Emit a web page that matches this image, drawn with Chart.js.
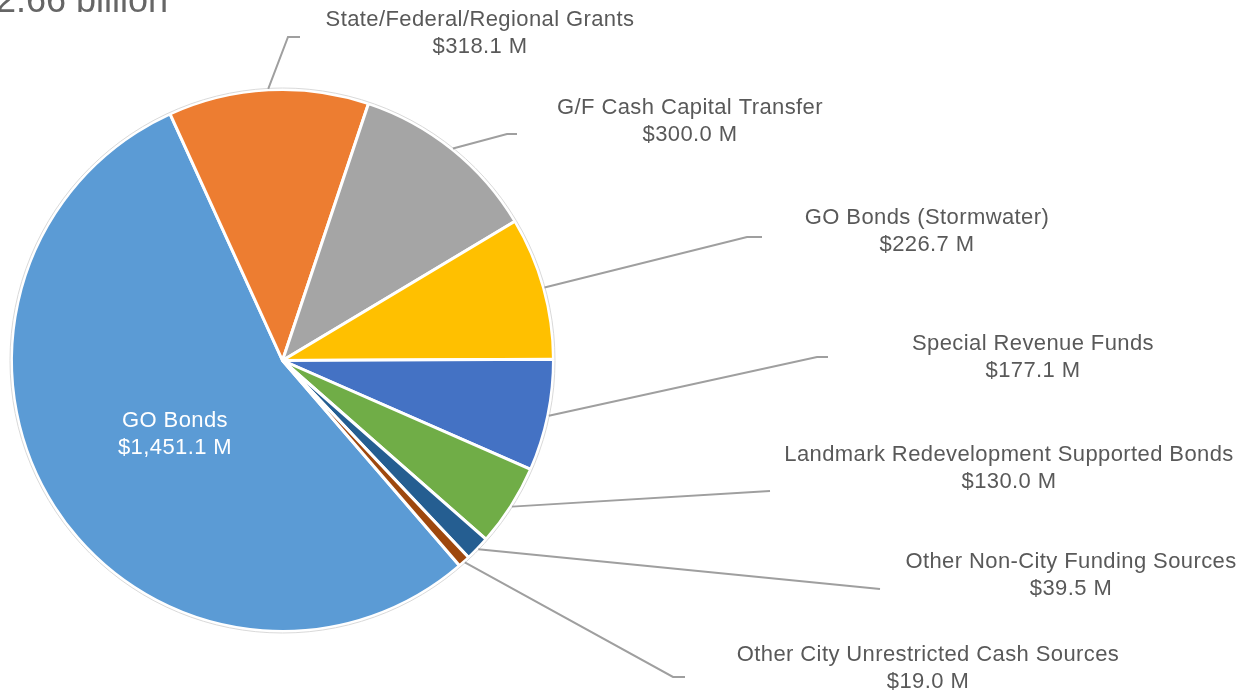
<!DOCTYPE html>
<html>
<head>
<meta charset="utf-8">
<script src="https://cdn.jsdelivr.net/npm/chart.js@4/dist/chart.umd.min.js"></script>
<style>
  html, body { margin: 0; padding: 0; background: #fff; }
  #wrap { width: 1246px; height: 693px; }
</style>
</head>
<body>
<div id="wrap"><canvas id="myChart" width="1246" height="693"></canvas></div>
<script>
const title = '2.66 billion';

const labels = [
  'GO Bonds',
  'State/Federal/Regional Grants',
  'G/F Cash Capital Transfer',
  'GO Bonds (Stormwater)',
  'Special Revenue Funds',
  'Landmark Redevelopment Supported Bonds',
  'Other Non-City Funding Sources',
  'Other City Unrestricted Cash Sources'
];
const amounts = [1451.1, 318.1, 300.0, 226.7, 177.1, 130.0, 39.5, 19.0]; // $ M
const colors = ['#5B9BD5', '#ED7D31', '#A5A5A5', '#FFC000', '#4472C4', '#70AD47', '#255E91', '#9E480E'];

function money(v) {
  return '$' + v.toLocaleString('en-US', { minimumFractionDigits: 1, maximumFractionDigits: 1 }) + ' M';
}

// label placement (canvas px): leader knee, end of short horizontal, text centre
const labelLayout = [
  { inside: true, tx: 175, ty: 421 },
  { knee: [288, 37], end: [300, 37], tx: 480, ty: 20 },
  { knee: [507, 134], end: [517, 134], tx: 690, ty: 108 },
  { knee: [747, 237], end: [762, 237], tx: 927, ty: 218 },
  { knee: [817, 357], end: [828, 357], tx: 1033, ty: 344 },
  { knee: [770, 491], end: [770, 491], tx: 1009, ty: 455 },
  { knee: [880, 589], end: [880, 589], tx: 1071, ty: 562 },
  { knee: [673, 677], end: [685, 677], tx: 928, ty: 655 }
];

const labelFont = '22px "Liberation Sans", Arial, sans-serif';

const pieLabels = {
  id: 'pieLabels',
  afterDatasetsDraw(chart) {
    const ctx = chart.ctx;
    const arcs = chart.getDatasetMeta(0).data;
    ctx.save();

    // faint outline round the pie
    const a0 = arcs[0].getProps(['x', 'y', 'outerRadius'], true);
    ctx.beginPath();
    ctx.arc(a0.x, a0.y, a0.outerRadius + 1.5, 0, Math.PI * 2);
    ctx.strokeStyle = '#d9d9d9';
    ctx.lineWidth = 1;
    ctx.stroke();

    ctx.font = labelFont;
    ctx.letterSpacing = '0.4px';
    ctx.textAlign = 'center';
    ctx.textBaseline = 'middle';
    arcs.forEach((arc, i) => {
      const p = arc.getProps(['x', 'y', 'startAngle', 'endAngle', 'outerRadius'], true);
      const lay = labelLayout[i];
      if (!lay.inside) {
        const mid = (p.startAngle + p.endAngle) / 2;
        const sx = p.x + Math.cos(mid) * (p.outerRadius + 1);
        const sy = p.y + Math.sin(mid) * (p.outerRadius + 1);
        ctx.beginPath();
        ctx.moveTo(sx, sy);
        ctx.lineTo(lay.knee[0], lay.knee[1]);
        ctx.lineTo(lay.end[0], lay.end[1]);
        ctx.strokeStyle = '#9f9f9f';
        ctx.lineWidth = 2;
        ctx.stroke();
      }
      ctx.fillStyle = lay.inside ? '#ffffff' : '#595959';
      ctx.fillText(labels[i], lay.tx, lay.ty);
      ctx.fillText(money(amounts[i]), lay.tx, lay.ty + 27);
    });

    // chart title, cut off at the top-left like the source
    ctx.letterSpacing = '0px';
    ctx.textAlign = 'left';
    ctx.textBaseline = 'alphabetic';
    ctx.font = '36px "Liberation Sans", Arial, sans-serif';
    ctx.fillStyle = '#666666';
    ctx.fillText(title, -4, 12);
    ctx.restore();
  }
};

const ctx = document.getElementById('myChart').getContext('2d');
new Chart(ctx, {
  type: 'pie',
  data: {
    labels: labels,
    datasets: [{
      data: amounts,
      backgroundColor: colors,
      borderColor: '#ffffff',
      borderWidth: 3
    }]
  },
  options: {
    responsive: false,
    animation: false,
    rotation: 139.2,
    layout: { padding: { left: 9, right: 690, top: 88, bottom: 60 } },
    plugins: {
      legend: { display: false },
      tooltip: { enabled: false }
    }
  },
  plugins: [pieLabels]
});
</script>
</body>
</html>
